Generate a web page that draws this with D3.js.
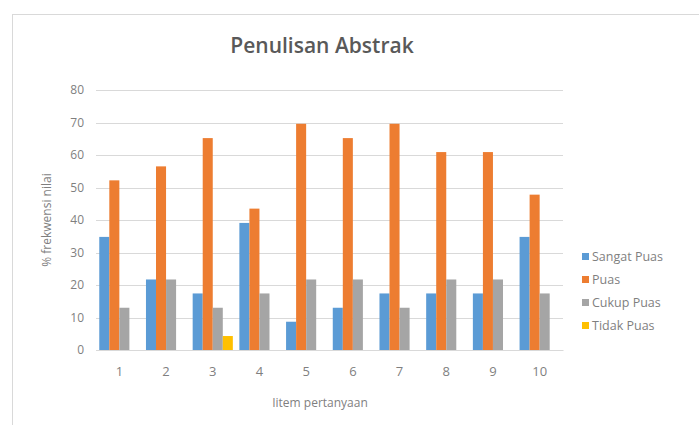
<!DOCTYPE html>
<html>
<head>
<meta charset="utf-8">
<script src="https://cdn.jsdelivr.net/npm/d3@7"></script>
<style>
  body { margin: 0; background: #fff; }
  svg text { font-family: "Open Sans", "Noto Sans", sans-serif; }
</style>
</head>
<body>
<div id="chart"></div>
<script>
const categories = ["1", "2", "3", "4", "5", "6", "7", "8", "9", "10"];
const seriesNames = ["Sangat Puas", "Puas", "Cukup Puas", "Tidak Puas"];
const sangatPuas = [34.8, 21.7, 17.4, 39.1, 8.7, 13.0, 17.4, 17.4, 17.4, 34.8];
const puas = [52.2, 56.5, 65.2, 43.5, 69.6, 65.2, 69.6, 60.9, 60.9, 47.8];
const cukupPuas = [13.0, 21.7, 13.0, 17.4, 21.7, 21.7, 13.0, 21.7, 21.7, 17.4];
const tidakPuas = [0, 0, 4.3, 0, 0, 0, 0, 0, 0, 0];
const yTicks = [0, 10, 20, 30, 40, 50, 60, 70, 80];
const colors = ["#5B9BD5", "#ED7D31", "#A5A5A5", "#FFC000"];

const width = 699;
const height = 425;
const margin = { top: 90, right: 136, bottom: 75, left: 96 };

const svg = d3.select("#chart")
  .append("svg")
  .attr("width", width)
  .attr("height", height);

// chart frame
svg.append("rect")
  .attr("x", 12.5)
  .attr("y", 14.5)
  .attr("width", width)
  .attr("height", height)
  .attr("fill", "#fff")
  .attr("stroke", "#d9d9d9");

const x0 = d3.scaleBand()
  .domain(categories)
  .range([margin.left, width - margin.right])
  .paddingInner(0.14)
  .paddingOuter(0.07);

const x1 = d3.scaleBand()
  .domain(seriesNames)
  .range([0, x0.bandwidth()]);

const y = d3.scaleLinear()
  .domain([0, 80])
  .range([height - margin.bottom, margin.top]);

const color = d3.scaleOrdinal(seriesNames, colors);

// gridlines
svg.append("g")
  .selectAll("line")
  .data(yTicks)
  .join("line")
  .attr("x1", margin.left)
  .attr("x2", width - margin.right)
  .attr("y1", d => Math.round(y(d)) + 0.5)
  .attr("y2", d => Math.round(y(d)) + 0.5)
  .attr("stroke", "#d9d9d9");

const yAxis = svg.append("g")
  .attr("transform", `translate(${margin.left},0)`)
  .call(d3.axisLeft(y).tickValues(yTicks).tickSize(0).tickPadding(12));
yAxis.select(".domain").remove();
yAxis.selectAll("text")
  .attr("fill", "#7f7f7f")
  .style("font-size", "12px");

const data = categories.map((c, i) => ({
  cat: c,
  values: [sangatPuas[i], puas[i], cukupPuas[i], tidakPuas[i]]
}));

const groups = svg.append("g")
  .selectAll("g")
  .data(data)
  .join("g")
  .attr("transform", d => `translate(${x0(d.cat)},0)`);

groups.selectAll("rect")
  .data(d => d.values.map((v, j) => ({ name: seriesNames[j], value: v })))
  .join("rect")
  .attr("x", d => x1(d.name))
  .attr("y", d => y(d.value))
  .attr("width", x1.bandwidth())
  .attr("height", d => y(0) - y(d.value))
  .attr("fill", d => color(d.name));

const xAxis = svg.append("g")
  .attr("transform", `translate(0,${y(0)})`)
  .call(d3.axisBottom(x0).tickSize(0).tickPadding(17));
xAxis.select(".domain")
  .attr("stroke", "#d9d9d9");
xAxis.selectAll("text")
  .attr("fill", "#7f7f7f")
  .style("font-size", "13px");

// title
svg.append("text")
  .attr("x", 322)
  .attr("y", 53)
  .attr("text-anchor", "middle")
  .attr("fill", "#595959")
  .style("font-size", "21px")
  .style("font-weight", "600")
  .text("Penulisan Abstrak");

// axis titles
svg.append("text")
  .attr("x", 320)
  .attr("y", 407)
  .attr("text-anchor", "middle")
  .attr("fill", "#7f7f7f")
  .style("font-size", "12px")
  .text("Iitem pertanyaan");

svg.append("text")
  .attr("transform", "translate(51,220) rotate(-90)")
  .attr("text-anchor", "middle")
  .attr("fill", "#7f7f7f")
  .style("font-size", "12px")
  .text("% frekwensi nilai");

// legend
const legend = svg.append("g")
  .selectAll("g")
  .data(seriesNames)
  .join("g")
  .attr("transform", (d, i) => `translate(582,${257 + i * 23})`);

legend.append("rect")
  .attr("x", 0)
  .attr("y", -4)
  .attr("width", 7)
  .attr("height", 7)
  .attr("fill", d => color(d));

legend.append("text")
  .attr("x", 10)
  .attr("y", 0)
  .attr("dy", "0.35em")
  .attr("fill", "#7f7f7f")
  .style("font-size", "12.5px")
  .text(d => d);
</script>
</body>
</html>
